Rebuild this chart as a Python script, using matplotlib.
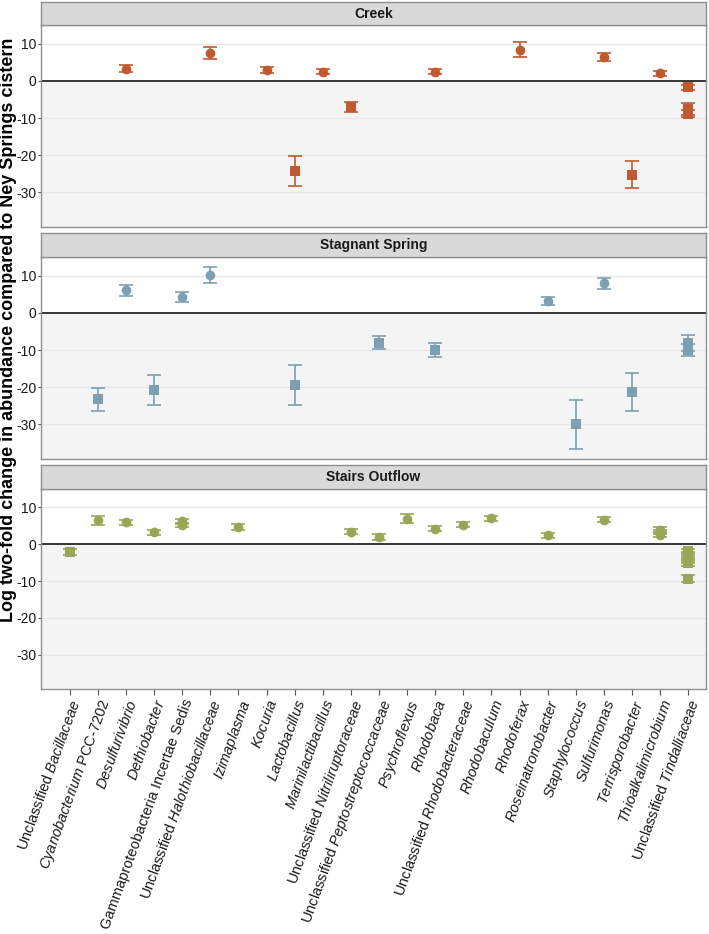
"""
Log2 fold change per genus for three sites versus the Ney Springs cistern.
"""

import matplotlib

matplotlib.use("Agg")
import matplotlib.pyplot as plt

plt.rcParams["font.family"] = ["Liberation Sans", "DejaVu Sans"]
plt.rcParams["mathtext.fontset"] = "custom"
plt.rcParams["mathtext.rm"] = "Liberation Sans"
plt.rcParams["mathtext.it"] = "Liberation Sans:italic"
plt.rcParams["axes.unicode_minus"] = False

GENERA = [
    "Unclassified Bacillaceae",
    "Cyanobacterium PCC-7202",
    "Desulfurivibrio",
    "Dethiobacter",
    "Gammaproteobacteria Incertae Sedis",
    "Unclassified Halothiobacillaceae",
    "Izimaplasma",
    "Kocuria",
    "Lactobacillus",
    "Marinilactibacillus",
    "Unclassified Nitriliruptoraceae",
    "Unclassified Peptostreptococcaceae",
    "Psychroflexus",
    "Rhodobaca",
    "Unclassified Rhodobacteraceae",
    "Rhodobaculum",
    "Rhodoferax",
    "Roseinatronobacter",
    "Staphylococcus",
    "Sulfurimonas",
    "Terrisporobacter",
    "Thioalkalimicrobium",
    "Unclassified Tindalliaceae",
]

# tick labels with italic genus / family names
TICK_LABELS = [
    r"Unclassified $\it{Bacillaceae}$",
    r"$\it{Cyanobacterium}$ PCC-7202",
    r"$\it{Desulfurivibrio}$",
    r"$\it{Dethiobacter}$",
    "Gammaproteobacteria Incertae Sedis",
    r"Unclassified $\it{Halothiobacillaceae}$",
    r"$\it{Izimaplasma}$",
    r"$\it{Kocuria}$",
    r"$\it{Lactobacillus}$",
    r"$\it{Marinilactibacillus}$",
    r"Unclassified $\it{Nitriliruptoraceae}$",
    r"Unclassified $\it{Peptostreptococcaceae}$",
    r"$\it{Psychroflexus}$",
    r"$\it{Rhodobaca}$",
    r"Unclassified $\it{Rhodobacteraceae}$",
    r"$\it{Rhodobaculum}$",
    r"$\it{Rhodoferax}$",
    r"$\it{Roseinatronobacter}$",
    r"$\it{Staphylococcus}$",
    r"$\it{Sulfurimonas}$",
    r"$\it{Terrisporobacter}$",
    r"$\it{Thioalkalimicrobium}$",
    r"Unclassified $\it{Tindalliaceae}$",
]

SITES = ["Creek", "Stagnant Spring", "Stairs Outflow"]
COLORS = ["#C0592F", "#7C9FB1", "#9AA657"]

CREEK_GENUS = [
    "Desulfurivibrio", "Unclassified Halothiobacillaceae", "Kocuria",
    "Lactobacillus", "Marinilactibacillus", "Unclassified Nitriliruptoraceae",
    "Rhodobaca", "Rhodoferax", "Sulfurimonas", "Terrisporobacter",
    "Thioalkalimicrobium", "Unclassified Tindalliaceae",
    "Unclassified Tindalliaceae", "Unclassified Tindalliaceae",
]
CREEK_LFC = [3.3, 7.5, 3.0, -24.3, 2.5, -7.0, 2.5, 8.3, 6.4, -25.2, 2.0, -1.7, -7.6, -8.8]
CREEK_SE = [1.0, 1.7, 0.8, 4.0, 0.7, 1.4, 0.8, 2.0, 1.0, 3.7, 0.7, 0.7, 1.6, 1.0]

STAGNANT_GENUS = [
    "Cyanobacterium PCC-7202", "Desulfurivibrio", "Dethiobacter",
    "Gammaproteobacteria Incertae Sedis", "Unclassified Halothiobacillaceae",
    "Lactobacillus", "Unclassified Peptostreptococcaceae", "Rhodobaca",
    "Roseinatronobacter", "Staphylococcus", "Sulfurimonas", "Terrisporobacter",
    "Unclassified Tindalliaceae", "Unclassified Tindalliaceae",
]
STAGNANT_LFC = [-23.3, 6.0, -20.8, 4.3, 10.1, -19.4, -8.0, -10.0, 3.1, -30.0, 7.9, -21.4, -8.2, -10.0]
STAGNANT_SE = [3.0, 1.5, 4.0, 1.4, 2.2, 5.4, 1.8, 1.8, 1.1, 6.5, 1.4, 5.1, 2.2, 1.5]

STAIRS_GENUS = [
    "Unclassified Bacillaceae", "Cyanobacterium PCC-7202", "Desulfurivibrio",
    "Dethiobacter", "Gammaproteobacteria Incertae Sedis",
    "Gammaproteobacteria Incertae Sedis", "Izimaplasma",
    "Unclassified Nitriliruptoraceae", "Unclassified Peptostreptococcaceae",
    "Psychroflexus", "Rhodobaca", "Unclassified Rhodobacteraceae",
    "Rhodobaculum", "Roseinatronobacter", "Sulfurimonas",
    "Thioalkalimicrobium", "Thioalkalimicrobium", "Thioalkalimicrobium",
    "Unclassified Tindalliaceae", "Unclassified Tindalliaceae",
    "Unclassified Tindalliaceae", "Unclassified Tindalliaceae",
    "Unclassified Tindalliaceae", "Unclassified Tindalliaceae",
]
STAIRS_LFC = [-2.0, 6.5, 6.0, 3.3, 5.2, 6.2, 4.7, 3.4, 2.0, 6.9, 4.2, 5.3, 7.0, 2.4, 6.7,
              2.5, 3.3, 4.0, -1.8, -2.8, -3.6, -4.5, -5.2, -9.3]
STAIRS_SE = [0.8, 1.2, 0.7, 0.7, 0.6, 0.6, 0.7, 0.7, 0.8, 1.2, 0.7, 0.7, 0.7, 0.7, 0.7,
             0.6, 0.6, 0.6, 0.6, 0.6, 0.6, 0.6, 0.6, 1.0]

PANEL_DATA = [
    (CREEK_GENUS, CREEK_LFC, CREEK_SE),
    (STAGNANT_GENUS, STAGNANT_LFC, STAGNANT_SE),
    (STAIRS_GENUS, STAIRS_LFC, STAIRS_SE),
]

Y_TICKS = [10, 0, -10, -20, -30]
Y_LIM = (-39.3, 15)

W, H = 709, 934
LEFT, RIGHT = 41, 706
# (strip top, panel top, panel bottom) in pixels
PANEL_PX = [(2, 25, 227), (233, 257, 459), (465, 489, 689)]

BORDER = "#8F8F8F"


def main() -> None:
    fig = plt.figure(figsize=(W / 100, H / 100), dpi=100)
    n = len(GENERA)

    for i, (site, color, (genus, lfc, se)) in enumerate(zip(SITES, COLORS, PANEL_DATA)):
        s_top, p_top, p_bot = PANEL_PX[i]
        ax = fig.add_axes([LEFT / W, 1 - p_bot / H, (RIGHT - LEFT) / W, (p_bot - p_top) / H])
        strip = fig.add_axes([LEFT / W, 1 - p_top / H, (RIGHT - LEFT) / W, (p_top - s_top) / H])

        # strip header
        strip.set_facecolor("#D9D9D9")
        strip.set_xticks([])
        strip.set_yticks([])
        for sp in strip.spines.values():
            sp.set_color(BORDER)
            sp.set_linewidth(1.0)
        strip.text(0.5, 0.48, site, ha="center", va="center", fontsize=10,
                   fontweight="bold", color="#1A1A1A", transform=strip.transAxes)

        ax.set_xlim(-1.02, n - 1 + 0.63)
        ax.set_ylim(*Y_LIM)
        ax.set_facecolor("white")
        ax.axhspan(Y_LIM[0], 0, color="#F4F4F4", zorder=0, lw=0)
        for yv in Y_TICKS:
            if yv != 0:
                ax.axhline(yv, color="#E6E6E6", lw=0.9, zorder=0.5)
        ax.axhline(0, color="black", lw=1.1, zorder=1)

        xs = [GENERA.index(g) for g in genus]
        ax.errorbar(xs, lfc, yerr=se, fmt="none", ecolor=color, elinewidth=1.2,
                    capsize=5, capthick=1.2, zorder=2)
        for x, y in zip(xs, lfc):
            ax.plot(x, y, marker="o" if y > 0 else "s", color=color,
                    markersize=7 if y > 0 else 6.5, markeredgewidth=0, zorder=3)

        ax.set_yticks(Y_TICKS)
        ax.set_yticklabels([str(t) for t in Y_TICKS])
        ax.tick_params(axis="y", length=2.5, width=0.8, color="#555555",
                       labelsize=10, labelcolor="#1A1A1A", pad=1)
        ax.set_xticks(range(n))
        if i == len(SITES) - 1:
            ax.set_xticklabels(TICK_LABELS, rotation=70, ha="right", va="top",
                               rotation_mode="anchor", fontsize=10.5, color="#1A1A1A")
            ax.tick_params(axis="x", length=4, width=0.8, color="#555555", pad=2)
        else:
            ax.tick_params(axis="x", length=0, labelbottom=False)
        for sp in ax.spines.values():
            sp.set_color(BORDER)
            sp.set_linewidth(1.0)
            sp.set_zorder(4)

    fig.text(9 / W, 1 - 330 / H,
             "Log two-fold change in abundance compared to Ney Springs cistern",
             rotation=90, ha="center", va="center", fontsize=13, fontweight="bold")

    fig.savefig("out.png", dpi=100)


if __name__ == "__main__":
    main()
